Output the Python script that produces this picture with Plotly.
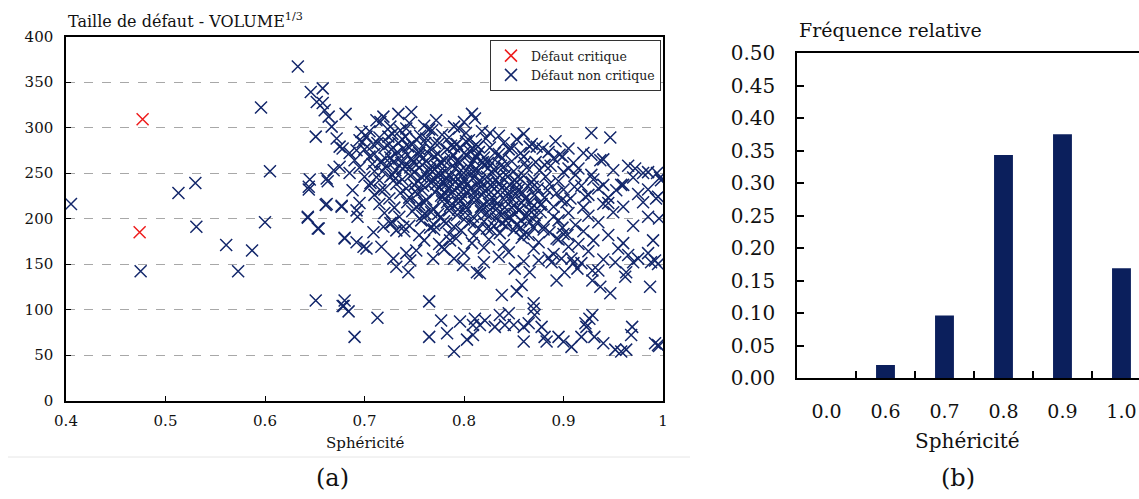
import plotly.graph_objects as go

# ---------------- data ----------------
crit_sph = [0.477, 0.474]
crit_size = [309, 185]

noncrit_points = [
    # sparse left part
    (0.405, 216), (0.475, 142), (0.513, 228), (0.530, 239), (0.531, 191), (0.561, 171),
    (0.573, 142), (0.587, 165), (0.596, 322), (0.605, 252), (0.600, 196), (0.633, 367),
    (0.651, 290), (0.645, 243), (0.644, 232), (0.643, 201), (0.654, 189), (0.663, 241),
    (0.661, 215), (0.677, 213), (0.680, 179), (0.651, 110), (0.678, 104),
    (0.646, 339), (0.658, 343), (0.652, 328), (0.658, 327), (0.660, 319), (0.664, 312),
    (0.681, 315), (0.667, 301), (0.672, 288), (0.675, 279), (0.712, 308), (0.719, 312),
    (0.716, 306), (0.734, 315), (0.747, 317), (0.808, 315), (0.811, 310), (0.697, 295),
    (0.695, 286), (0.702, 290), (0.709, 281), (0.726, 301), (0.736, 297), (0.685, 272),
    (0.678, 277), (0.692, 275), (0.644, 235), (0.662, 244), (0.675, 257), (0.669, 253),
    (0.685, 250), (0.688, 231), (0.662, 216), (0.695, 217), (0.706, 239), (0.716, 231),
    (0.726, 246),
    # upper right
    (0.928, 294), (0.947, 289), (0.928, 270), (0.937, 264), (0.896, 270), (0.899, 268),
    (0.873, 279), (0.879, 277), (0.848, 277), (0.826, 294), (0.814, 279), (0.881, 259),
    (0.905, 255), (0.928, 248), (0.972, 255), (0.980, 250), (0.985, 251), (0.994, 250),
    (0.998, 242), (0.940, 237), (0.958, 237), (0.953, 231), (0.980, 218), (0.995, 224),
    (0.861, 261), (0.854, 246), (0.868, 240), (0.911, 235), (0.922, 224), (0.898, 220),
    (0.945, 217), (0.824, 261), (0.831, 272), (0.844, 246), (0.884, 231),
    # lower left-middle
    (0.643, 202), (0.653, 189), (0.677, 214), (0.692, 209), (0.693, 202), (0.680, 178),
    (0.692, 174), (0.699, 169), (0.702, 167), (0.709, 185), (0.719, 191), (0.717, 169),
    (0.729, 156), (0.732, 147), (0.744, 141), (0.742, 162), (0.746, 154), (0.752, 165),
    (0.769, 156), (0.778, 169), (0.786, 176), (0.799, 149), (0.813, 141), (0.732, 187),
    (0.726, 195), (0.739, 191), (0.680, 110), (0.679, 104), (0.684, 98), (0.713, 91),
    (0.690, 70), (0.765, 109), (0.765, 70), (0.777, 88), (0.783, 74), (0.790, 54),
    (0.796, 87), (0.803, 67), (0.809, 83), (0.809, 72),
    # lower right
    (0.816, 140), (0.838, 116), (0.853, 120), (0.858, 127), (0.851, 145), (0.866, 141),
    (0.875, 154), (0.893, 132), (0.901, 141), (0.929, 132), (0.937, 125), (0.947, 118),
    (0.935, 143), (0.962, 136), (0.963, 141), (0.987, 125), (0.992, 154), (0.988, 152),
    (0.952, 152), (0.965, 160), (0.975, 156), (0.918, 151), (0.914, 145), (0.929, 143),
    (0.888, 152), (0.898, 156), (0.908, 156), (0.870, 101), (0.870, 107), (0.871, 94),
    (0.816, 83), (0.821, 88), (0.836, 94), (0.845, 96), (0.841, 83), (0.831, 81),
    (0.850, 83), (0.860, 81), (0.865, 85), (0.860, 65), (0.878, 81), (0.881, 70),
    (0.883, 65), (0.895, 70), (0.900, 65), (0.908, 59), (0.918, 70), (0.922, 85),
    (0.923, 81), (0.926, 90), (0.929, 94), (0.931, 70), (0.940, 63), (0.952, 56),
    (0.958, 54), (0.963, 56), (0.968, 72), (0.969, 81), (0.992, 63), (0.995, 61),
    (0.811, 90), (0.997, 245), (0.993, 222), (0.996, 200), (0.990, 176), (0.995, 150),
    (0.996, 60),
    # dense core
    (0.745, 305), (0.760, 302), (0.772, 308), (0.790, 301), (0.800, 306), (0.765, 298),
    (0.705, 296), (0.728, 293), (0.742, 299), (0.756, 291), (0.768, 297), (0.778, 292),
    (0.795, 299), (0.802, 294), (0.818, 296), (0.835, 291), (0.860, 293), (0.752, 287),
    (0.698, 284), (0.715, 289), (0.725, 282), (0.738, 287), (0.748, 281), (0.762, 288),
    (0.775, 283), (0.785, 289), (0.793, 282), (0.805, 286), (0.812, 281), (0.822, 288),
    (0.840, 283), (0.853, 287), (0.868, 282), (0.892, 285),
    (0.700, 276), (0.710, 271), (0.720, 278), (0.733, 273), (0.744, 279), (0.755, 272),
    (0.766, 277), (0.774, 271), (0.783, 276), (0.790, 279), (0.800, 272), (0.808, 277),
    (0.815, 273), (0.826, 278), (0.835, 271), (0.845, 276), (0.857, 272), (0.866, 279),
    (0.885, 273), (0.905, 277), (0.920, 272),
    (0.690, 264), (0.705, 268), (0.716, 262), (0.726, 267), (0.737, 261), (0.747, 266),
    (0.755, 269), (0.762, 263), (0.770, 268), (0.778, 261), (0.787, 266), (0.795, 262),
    (0.803, 269), (0.810, 264), (0.820, 267), (0.828, 261), (0.838, 266), (0.848, 263),
    (0.860, 268), (0.872, 262), (0.890, 266), (0.910, 261), (0.940, 265),
    (0.695, 256), (0.710, 252), (0.722, 258), (0.731, 253), (0.741, 257), (0.750, 251),
    (0.758, 259), (0.766, 254), (0.773, 257), (0.781, 252), (0.789, 258), (0.797, 253),
    (0.805, 256), (0.813, 251), (0.820, 259), (0.830, 254), (0.840, 257), (0.850, 252),
    (0.863, 256), (0.876, 253), (0.887, 258), (0.900, 251), (0.915, 255), (0.950, 253),
    (0.965, 258),
    (0.700, 246), (0.715, 242), (0.728, 248), (0.738, 243), (0.746, 247), (0.754, 241),
    (0.762, 249), (0.770, 244), (0.776, 248), (0.784, 242), (0.792, 246), (0.800, 243),
    (0.808, 249), (0.815, 241), (0.823, 246), (0.832, 243), (0.842, 248), (0.851, 242),
    (0.860, 247), (0.870, 243), (0.882, 246), (0.895, 241), (0.912, 248), (0.930, 243),
    (0.970, 245),
    (0.705, 236), (0.720, 232), (0.732, 238), (0.742, 233), (0.750, 237), (0.758, 231),
    (0.767, 239), (0.775, 234), (0.782, 237), (0.790, 232), (0.798, 238), (0.806, 233),
    (0.813, 236), (0.821, 231), (0.829, 239), (0.838, 234), (0.846, 237), (0.855, 232),
    (0.864, 236), (0.874, 233), (0.886, 238), (0.900, 232), (0.918, 236), (0.935, 233),
    (0.960, 237), (0.985, 232),
    (0.710, 226), (0.725, 222), (0.736, 228), (0.745, 223), (0.753, 227), (0.762, 221),
    (0.771, 229), (0.779, 224), (0.787, 227), (0.795, 222), (0.803, 228), (0.810, 223),
    (0.818, 226), (0.826, 221), (0.834, 229), (0.843, 224), (0.852, 227), (0.861, 222),
    (0.871, 226), (0.881, 223), (0.893, 228), (0.907, 222), (0.925, 226), (0.945, 223),
    (0.975, 227),
    (0.715, 216), (0.730, 212), (0.743, 218), (0.752, 213), (0.760, 217), (0.769, 211),
    (0.778, 219), (0.786, 214), (0.794, 217), (0.802, 212), (0.810, 218), (0.817, 213),
    (0.825, 216), (0.833, 211), (0.842, 219), (0.850, 214), (0.858, 217), (0.868, 212),
    (0.878, 216), (0.890, 213), (0.903, 218), (0.920, 212), (0.940, 216), (0.960, 213),
    (0.720, 206), (0.735, 202), (0.748, 208), (0.758, 203), (0.767, 207), (0.776, 201),
    (0.785, 209), (0.793, 204), (0.801, 207), (0.809, 202), (0.817, 208), (0.826, 203),
    (0.835, 206), (0.845, 201), (0.855, 209), (0.865, 204), (0.877, 207), (0.890, 202),
    (0.905, 206), (0.925, 203), (0.950, 207), (0.985, 202),
    (0.728, 196), (0.745, 192), (0.757, 198), (0.770, 193), (0.780, 197), (0.790, 191),
    (0.800, 199), (0.810, 194), (0.820, 197), (0.830, 192), (0.842, 198), (0.853, 193),
    (0.866, 196), (0.880, 191), (0.895, 198), (0.912, 193), (0.935, 196), (0.970, 192),
    (0.740, 186), (0.755, 182), (0.770, 188), (0.785, 183), (0.797, 187), (0.810, 181),
    (0.823, 189), (0.836, 184), (0.850, 187), (0.865, 182), (0.880, 188), (0.900, 183),
    (0.920, 186), (0.945, 182),
    (0.760, 176), (0.775, 172), (0.792, 178), (0.808, 173), (0.825, 177), (0.840, 171),
    (0.858, 179), (0.875, 174), (0.895, 177), (0.915, 172), (0.930, 176), (0.960, 173),
    (0.780, 166), (0.800, 162), (0.820, 168), (0.845, 163), (0.870, 167), (0.890, 161),
    (0.905, 169), (0.925, 164), (0.955, 167), (0.985, 162),
    (0.790, 156), (0.820, 152), (0.835, 158), (0.860, 153), (0.885, 157), (0.910, 151),
    (0.940, 155), (0.970, 152),
    (0.763, 245), (0.768, 252), (0.772, 238), (0.776, 262), (0.781, 228), (0.786, 247),
    (0.791, 255), (0.796, 236), (0.799, 222), (0.804, 250), (0.807, 260), (0.811, 230),
    (0.816, 242), (0.819, 214), (0.824, 255), (0.828, 235), (0.831, 220), (0.836, 247),
    (0.839, 205), (0.844, 228), (0.848, 212), (0.853, 240), (0.857, 198), (0.862, 222),
    (0.866, 209), (0.869, 235), (0.873, 196), (0.877, 215), (0.756, 275), (0.761, 283),
    (0.749, 262), (0.743, 270), (0.738, 255), (0.734, 283), (0.729, 262), (0.724, 290),
    (0.789, 270), (0.796, 277), (0.802, 285), (0.812, 268), (0.779, 240), (0.783, 218),
    (0.794, 210), (0.827, 188), (0.842, 192), (0.860, 183), (0.870, 190), (0.886, 185),
    (0.893, 178), (0.899, 190), (0.904, 182), (0.826, 210), (0.832, 200), (0.838, 195),
    (0.851, 205), (0.857, 190),
    # extra density in the core
    (0.752, 259), (0.757, 246), (0.759, 236), (0.764, 272), (0.767, 258), (0.771, 283),
    (0.774, 250), (0.777, 225), (0.780, 264), (0.782, 245), (0.784, 233), (0.787, 280),
    (0.788, 216), (0.791, 240), (0.793, 263), (0.797, 229), (0.798, 248), (0.801, 214),
    (0.803, 238), (0.806, 274), (0.809, 244), (0.812, 255), (0.814, 222), (0.817, 235),
    (0.819, 262), (0.822, 205), (0.824, 240), (0.827, 229), (0.829, 250), (0.833, 216),
    (0.835, 238), (0.837, 258), (0.841, 212), (0.843, 233), (0.846, 202), (0.849, 221),
    (0.852, 233), (0.856, 210), (0.859, 228), (0.863, 202), (0.867, 218), (0.871, 204),
    (0.735, 266), (0.739, 277), (0.741, 290), (0.746, 256), (0.731, 244), (0.727, 276),
    (0.721, 266), (0.718, 252), (0.713, 283), (0.708, 260), (0.751, 230), (0.755, 215),
    (0.761, 205), (0.766, 190), (0.774, 205), (0.782, 195), (0.806, 196), (0.815, 189),
]
noncrit_sph = [p[0] for p in noncrit_points]
noncrit_size = [p[1] for p in noncrit_points]

bar_categories = ["0.0", "0.6", "0.7", "0.8", "0.9", "1.0"]
bar_freq = [0.0, 0.020, 0.096, 0.343, 0.375, 0.169]

x_ticks_a = [0.4, 0.5, 0.6, 0.7, 0.8, 0.9, 1.0]
x_ticktext_a = ["0.4", "0.5", "0.6", "0.7", "0.8", "0.9", "1"]

# ---------------- figure ----------------
W, H = 1139, 499
NAVY = "#13276b"
SERIF = "DejaVu Serif"


def px_x(p):
    return p / W


def px_y(p):
    return 1 - p / H


fig = go.Figure()

fig.add_trace(go.Scatter(
    x=crit_sph, y=crit_size, mode="markers", name="Défaut critique",
    marker=dict(symbol="x-thin", size=12, line=dict(width=1.5, color="#ee1c1c"), color="#ee1c1c"),
    xaxis="x", yaxis="y",
))
fig.add_trace(go.Scatter(
    x=noncrit_sph, y=noncrit_size, mode="markers", name="Défaut non critique",
    marker=dict(symbol="x-thin", size=12, line=dict(width=1.5, color=NAVY), color=NAVY),
    xaxis="x", yaxis="y",
))

bar_pos = list(range(len(bar_categories)))
fig.add_trace(go.Bar(
    x=bar_pos, y=bar_freq, width=0.32, marker=dict(color="#0b1f5c", line=dict(width=0)),
    showlegend=False, xaxis="x2", yaxis="y2",
))

axis_common = dict(showline=True, linecolor="black", linewidth=1.5, mirror=True,
                   ticks="inside", tickcolor="black", zeroline=False, automargin=False)

fig.update_layout(
    template="none",
    width=W, height=H,
    margin=dict(l=0, r=0, t=0, b=0, autoexpand=False),
    paper_bgcolor="white", plot_bgcolor="white",
    font=dict(family=SERIF, color="#111"),
    xaxis=dict(domain=[px_x(66), px_x(663)], range=[0.4, 1.0], tickvals=x_ticks_a,
               ticktext=x_ticktext_a, ticklen=5, showgrid=False,
               tickfont=dict(size=15), ticklabelstandoff=6, anchor="y", **axis_common),
    yaxis=dict(domain=[px_y(400.6), px_y(36.5)], range=[0, 400], dtick=50, ticklen=5,
               showgrid=True, gridcolor="#a8a8a8", griddash="dash", gridwidth=1.3,
               tickfont=dict(size=15), ticklabelstandoff=8, anchor="x", **axis_common),
    xaxis2=dict(domain=[px_x(797), 1.0], range=[-0.5, 5.297], tickvals=bar_pos,
                ticktext=bar_categories, ticks="", showgrid=False, showline=True,
                linecolor="black", linewidth=1.5, mirror=True, zeroline=False,
                automargin=False,
                tickfont=dict(size=19), ticklabelstandoff=15, anchor="y2",
                minor=dict(tickvals=[0.5, 1.5, 2.5, 3.5, 4.5], ticks="inside",
                           ticklen=7, tickcolor="black", tickwidth=1.5, showgrid=False)),
    yaxis2=dict(domain=[px_y(378), px_y(53)], range=[0, 0.5], dtick=0.05,
                tickformat=".2f", ticks="inside", ticklen=7, tickwidth=1.5,
                tickcolor="black", showgrid=False, showline=True, linecolor="black",
                linewidth=1.5, zeroline=False, automargin=False, tickfont=dict(size=20),
                ticklabelstandoff=16, anchor="x2"),
    legend=dict(x=px_x(490), y=px_y(40), xanchor="left", yanchor="top",
                bgcolor="white", bordercolor="#333", borderwidth=1,
                font=dict(size=12.5, family=SERIF, color="#222"),
                itemwidth=30, tracegroupgap=0),
    showlegend=True,
)

annotations = [
    dict(text="Taille de défaut - VOLUME<sup>1/3</sup>", x=px_x(66), y=px_y(20),
         xanchor="left", yanchor="middle", font=dict(size=16)),
    dict(text="Sphéricité", x=px_x(365), y=px_y(443), xanchor="center", yanchor="middle",
         font=dict(size=15)),
    dict(text="(a)", x=px_x(332), y=px_y(478), xanchor="center", yanchor="middle",
         font=dict(size=24)),
    dict(text="Fréquence relative", x=px_x(797), y=px_y(30), xanchor="left",
         yanchor="middle", font=dict(size=19)),
    dict(text="Sphéricité", x=px_x(967), y=px_y(441), xanchor="center", yanchor="middle",
         font=dict(size=20)),
    dict(text="(b)", x=px_x(958), y=px_y(478), xanchor="center", yanchor="middle",
         font=dict(size=24)),
]
for a in annotations:
    a.update(xref="paper", yref="paper", showarrow=False)
fig.update_layout(annotations=annotations)

fig.add_shape(type="line", xref="paper", yref="paper", x0=px_x(8), x1=px_x(690),
              y0=px_y(457), y1=px_y(457), line=dict(color="#e6e6e6", width=1))

fig.write_html(
    "out.html",
    config={"displayModeBar": False},
    post_script="document.body.style.margin='0';document.body.style.overflow='hidden';",
)
